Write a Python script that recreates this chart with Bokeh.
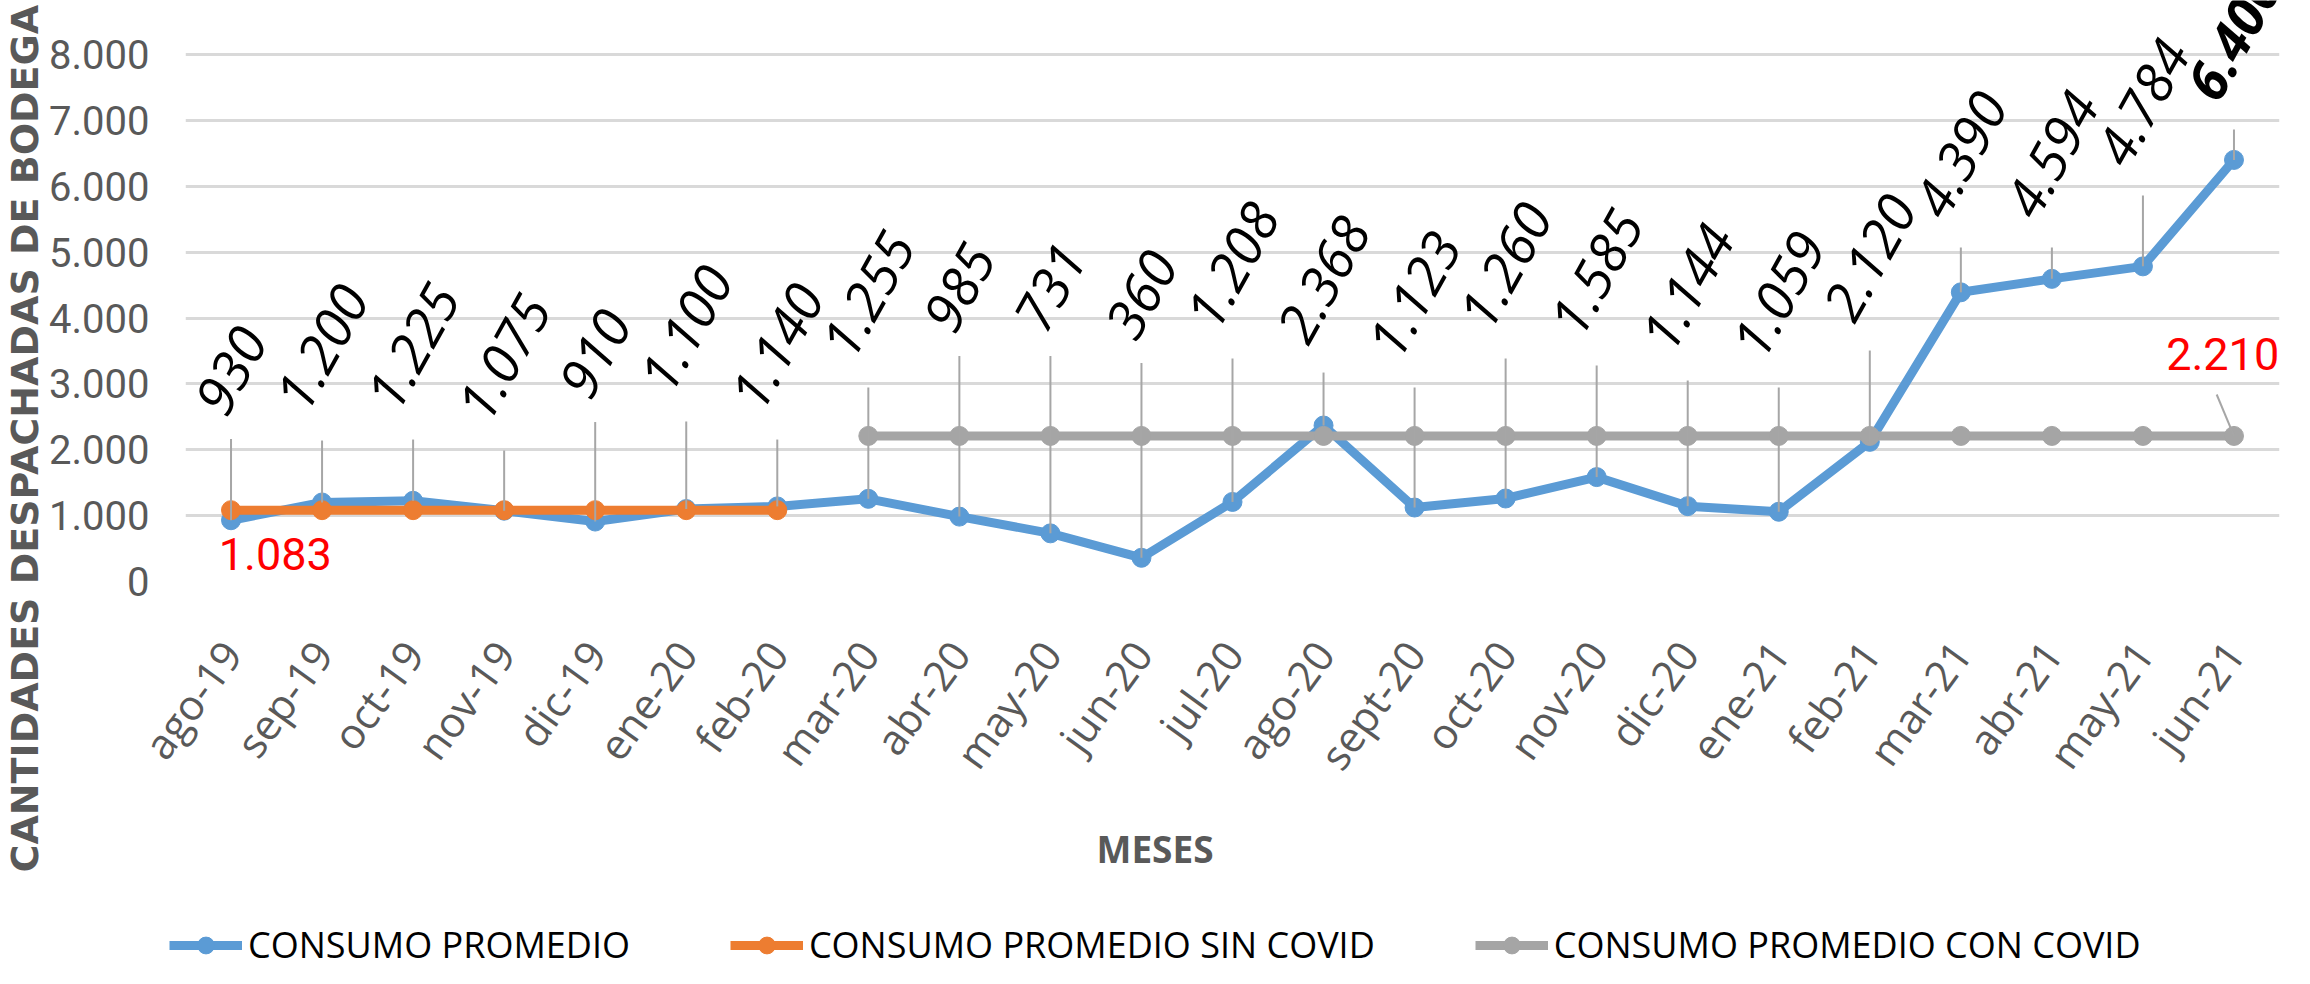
import math
from bokeh.plotting import figure
from bokeh.layouts import column
from bokeh.models import (FixedTicker, Label, LabelSet, ColumnDataSource, Legend,
                          LegendItem, Range1d, Title)
from bokeh.core.properties import value
from bokeh.embed import file_html
from bokeh.resources import INLINE

# ---------------- data ----------------
months = ["ago-19", "sep-19", "oct-19", "nov-19", "dic-19", "ene-20", "feb-20",
          "mar-20", "abr-20", "may-20", "jun-20", "jul-20", "ago-20", "sept-20",
          "oct-20", "nov-20", "dic-20", "ene-21", "feb-21", "mar-21", "abr-21",
          "may-21", "jun-21"]
consumo = [930, 1200, 1225, 1075, 910, 1100, 1140, 1255, 985, 731, 360, 1208,
           2368, 1123, 1260, 1585, 1144, 1059, 2120, 4390, 4594, 4784, 6400]
sin_covid_months = ["ago-19", "sep-19", "oct-19", "nov-19", "dic-19", "ene-20", "feb-20"]
sin_covid = [1083, 1083, 1083, 1083, 1083, 1083, 1083]
con_covid_months = ["mar-20", "abr-20", "may-20", "jun-20", "jul-20", "ago-20",
                    "sept-20", "oct-20", "nov-20", "dic-20", "ene-21", "feb-21",
                    "mar-21", "abr-21", "may-21", "jun-21"]
con_covid = [2210, 2210, 2210, 2210, 2210, 2210, 2210, 2210, 2210, 2210, 2210,
             2210, 2210, 2210, 2210, 2210]
y_ticks = [0, 1000, 2000, 3000, 4000, 5000, 6000, 7000, 8000]
y_tick_labels = ["0", "1.000", "2.000", "3.000", "4.000", "5.000", "6.000",
                 "7.000", "8.000"]

series_names = ["CONSUMO PROMEDIO", "CONSUMO PROMEDIO SIN COVID",
                "CONSUMO PROMEDIO CON COVID"]
x_title = "MESES"
y_title = "CANTIDADES DESPACHADAS DE BODEGA"

# ---------------- layout ----------------
W = 2294
H_MAIN, H_LEG = 908, 60
FL, FR, FB = 179, 2279, 581       # frame left/right/bottom (figure px)
GRID_TOP = 54                     # where the 8000 gridline sits
YMAX = 8000
ppx = (FR - FL) / len(months)     # px per category
ppy = (FB - GRID_TOP) / YMAX      # px per value unit
Y_END = FB / ppy                  # frame reaches the top edge of the canvas


def px_to_data(fx, fy):
    """figure pixel (from top-left) -> data coords"""
    return (fx - FL) / ppx - 0.5, (FB - fy) / ppy


# label centre heights for the rotated value labels (value units)
label_y = [3203, 3552, 3567, 3400, 3461, 3841, 3567, 4357, 4463, 4463, 4357,
           4797, 4584, 4357, 4797, 4691, 4463, 4357, 4918, 6482, 6482, 7271, 8273]

BLUE, ORANGE, GRAY = "#5B9BD5", "#ED7D31", "#A5A5A5"
TXT_GRAY = "#595959"

xi = list(range(len(months)))
idx = {m: i for i, m in enumerate(months)}
x_sin = [idx[m] for m in sin_covid_months]
x_con = [idx[m] for m in con_covid_months]

p = figure(width=W, height=H_MAIN, output_backend="svg", toolbar_location=None,
           x_range=Range1d(-0.5, len(months) - 0.5), y_range=Range1d(0, Y_END),
           min_border_left=FL, min_border_right=W - FR, min_border_top=0,
           min_border_bottom=H_MAIN - FB)
p.outline_line_color = None
p.background_fill_color = "white"
p.border_fill_color = "white"

# grid
p.xgrid.grid_line_color = None
p.ygrid.grid_line_color = "#D9D9D9"
p.ygrid.grid_line_width = 3
p.ygrid.ticker = FixedTicker(ticks=y_ticks)

# y axis
p.yaxis.ticker = FixedTicker(ticks=y_ticks)
p.yaxis.major_label_overrides = {t: l for t, l in zip(y_ticks, y_tick_labels)}
p.yaxis.axis_line_color = None
p.yaxis.major_tick_line_color = None
p.yaxis.minor_tick_line_color = None
p.yaxis.major_tick_out = 0
p.yaxis.major_tick_in = 0
p.yaxis.major_label_standoff = 36
p.yaxis.major_label_text_font = "Roboto"
p.yaxis.major_label_text_font_size = "40px"
p.yaxis.major_label_text_color = TXT_GRAY

# x axis
p.xaxis.ticker = FixedTicker(ticks=xi)
p.xaxis.major_label_overrides = {i: m for i, m in zip(xi, months)}
p.xaxis.major_label_orientation = math.radians(54)
p.xaxis.axis_line_color = None
p.xaxis.major_tick_line_color = None
p.xaxis.minor_tick_line_color = None
p.xaxis.major_tick_out = 0
p.xaxis.major_tick_in = 0
p.xaxis.major_label_standoff = 64
p.xaxis.major_label_text_font = "Open Sans"
p.xaxis.major_label_text_font_size = "42px"
p.xaxis.major_label_text_color = TXT_GRAY

# series
LW, MS = 9, 19
p.line(xi, consumo, line_color=BLUE, line_width=LW)
p.scatter(xi, consumo, size=MS, marker="circle", fill_color=BLUE, line_color=BLUE)
p.line(x_sin, sin_covid, line_color=ORANGE, line_width=LW)
p.scatter(x_sin, sin_covid, size=MS, marker="circle", fill_color=ORANGE, line_color=ORANGE)
p.line(x_con, con_covid, line_color=GRAY, line_width=LW)
p.scatter(x_con, con_covid, size=MS, marker="circle", fill_color=GRAY, line_color=GRAY)

# value labels + leader lines
texts = [f"{v:,}".replace(",", ".") for v in consumo]
ang = math.radians(61)
lx0, ly0, lx1, ly1 = [], [], [], []
for i, (v, ly, t) in enumerate(zip(consumo, label_y, texts)):
    off_px = 0.5 * (len(t) * 28 * math.sin(ang) + 28 * math.cos(ang)) + 25
    top = ly - off_px / ppy
    if top > v:
        lx0.append(i); ly0.append(v); lx1.append(i); ly1.append(top)
p.segment(lx0, ly0, lx1, ly1, line_color="#A6A6A6", line_width=2)

styles = ["italic"] * (len(consumo) - 1) + ["bold italic"]
lab_src = ColumnDataSource(dict(x=xi, y=label_y, text=texts, style=styles))
p.add_layout(LabelSet(x="x", y="y", text="text", source=lab_src, angle=ang,
                      text_align="center", text_baseline="middle",
                      text_font=value("Open Sans"), text_font_size=value("54px"),
                      text_font_style={"field": "style"}, text_color="black"))

# red average labels
rx, ry = px_to_data(269, 553)
p.add_layout(Label(x=rx, y=ry, text=f"{sin_covid[0]:,}".replace(",", "."),
                   text_align="center", text_baseline="middle", text_color="#FF0000",
                   text_font="Roboto", text_font_size="45px"))
rx2, ry2 = px_to_data(2222, 353)
p.add_layout(Label(x=rx2, y=ry2, text=f"{con_covid[-1]:,}".replace(",", "."),
                   text_align="center", text_baseline="middle", text_color="#FF0000",
                   text_font="Roboto", text_font_size="45px"))
lxe, lye = px_to_data(2216, 394)
p.segment([x_con[-1]], [con_covid[-1]], [lxe], [lye], line_color="#A6A6A6", line_width=2)

# axis titles (side panels, so they are not clipped by the frame)
p.add_layout(Title(text=y_title, align="left", offset=-291, standoff=0,
                   text_color=TXT_GRAY, text_font="DejaVu Sans", text_font_size="38px",
                   text_font_style="bold"), "left")
p.add_layout(Title(text=x_title, align="left", offset=911, standoff=42,
                   text_color=TXT_GRAY, text_font="Open Sans", text_font_size="37px",
                   text_font_style="bold"), "below")

# ---------------- legend strip ----------------
lg = figure(width=W, height=H_LEG, output_backend="svg", toolbar_location=None,
            x_range=Range1d(0, W), y_range=Range1d(0, H_LEG),
            x_axis_location=None, y_axis_location=None,
            min_border_left=0, min_border_right=0, min_border_top=0, min_border_bottom=0)
lg.outline_line_color = None
lg.grid.visible = False
lg.background_fill_color = "white"
lg.border_fill_color = "white"
for fig in (p, lg):
    if "frame_align" in fig.properties():
        fig.frame_align = False

colors = [BLUE, ORANGE, GRAY]
items = []
for name, c in zip(series_names, colors):
    # legend-only renderers, placed outside the visible range of the strip
    rl = lg.line([-50, -40], [-50, -50], line_color=c, line_width=LW)
    rs = lg.scatter([-45], [-50], size=MS, marker="circle", fill_color=c, line_color=c)
    items.append(LegendItem(label=name, renderers=[rl, rs]))
legend = Legend(items=items, orientation="horizontal", location=(169, -1),
                glyph_width=73, glyph_height=42, label_standoff=6, spacing=100,
                padding=0, margin=0, border_line_color=None, background_fill_alpha=0,
                label_text_font="Open Sans", label_text_font_size="36px",
                label_text_color="black")
lg.add_layout(legend)

layout = column(p, lg, spacing=0)
open("out.html", "w").write(file_html(layout, INLINE))
